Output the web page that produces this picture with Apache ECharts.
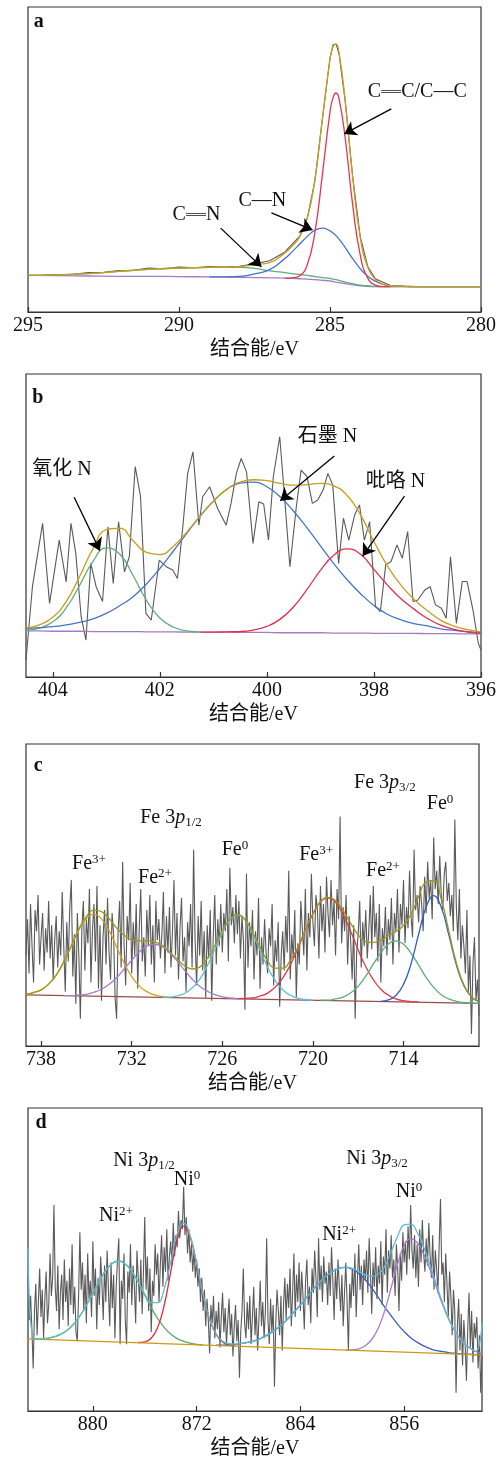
<!DOCTYPE html>
<html>
<head>
<meta charset="utf-8">
<title>XPS 分峰拟合</title>
<script src="https://cdn.jsdelivr.net/npm/echarts@6/dist/echarts.min.js"></script>
<style>
  html, body { margin: 0; padding: 0; background: #fff; }
  #chart { width: 499px; height: 1461px; }
</style>
</head>
<body>
<div id="chart"></div>
<script>
// ---------- (a) C 1s ----------
const aEnergy = [295, 294, 293, 292, 291, 290, 289, 288, 287.5, 287, 286.5, 286.25, 286, 285.75, 285.5, 285.25, 285, 284.9, 284.8, 284.7, 284.5, 284.25, 284, 283.75, 283.5, 283.25, 283, 282.5, 282, 281, 280];
const aBackground = [12.0, 11.9, 11.8, 11.7, 11.7, 11.6, 11.5, 11.4, 11.3, 11.2, 11.1, 11.0, 10.9, 10.8, 10.6, 10.4, 10.2, 10.0, 9.8, 9.6, 9.3, 8.9, 8.6, 8.4, 8.3, 8.3, 8.3, 8.3, 8.3, 8.3, 8.3];
const aDoubleCN = [12.0, 12.2, 12.6, 13.3, 14.0, 14.4, 14.6, 14.6, 14.3, 13.5, 12.9, 12.6, 12.3, 12.0, 11.6, 11.3, 11.0, 10.8, 10.6, 10.4, 9.8, 9.3, 8.8, 8.6, 8.4, 8.3, 8.3, 8.3, 8.3, 8.3, 8.3];
const aSingleCN = [null, null, null, null, null, null, 11.5, 11.7, 12.5, 13.9, 17.5, 19.8, 22.3, 24.8, 26.8, 27.5, 26.6, 25.9, 25.0, 23.9, 21.2, 17.5, 14.2, 11.7, 10.1, 9.1, 8.6, 8.4, 8.3, 8.3, 8.3];
const aCarbon = [null, null, null, null, null, null, null, null, null, null, 11.1, 11.2, 11.9, 15.6, 26.1, 45.3, 65.6, 70.3, 71.8, 69.9, 57.3, 35.2, 18.7, 11.1, 8.8, 8.3, 8.3, null, null, null, null];
const aEnvelope = [12.0, 12.2, 12.6, 13.3, 14.0, 14.4, 14.6, 14.9, 15.5, 16.2, 19.3, 21.6, 24.7, 30.8, 43.3, 63.3, 82.8, 87.0, 87.8, 85.0, 69.7, 44.2, 24.5, 14.6, 10.7, 9.1, 8.6, 8.4, 8.3, 8.3, 8.3];
const aRawEnergy = [295, 294.5, 294, 293.5, 293, 292.5, 292, 291.5, 291, 290.5, 290, 289.5, 289, 288.5, 288, 287.5, 287, 286.5, 286, 285.75, 285.5, 285.25, 285, 284.9, 284.8, 284.7, 284.5, 284.25, 284, 283.75, 283.5, 283, 282.5, 282, 281, 280];
const aRaw = [12.0, 12.1, 12.3, 12.4, 12.9, 13.0, 13.6, 13.7, 14.4, 14.2, 14.7, 14.5, 14.9, 14.7, 15.0, 15.8, 16.8, 19.6, 24.9, 30.9, 43.0, 63.5, 83.2, 87.6, 87.9, 84.6, 69.4, 44.5, 24.8, 14.9, 10.9, 8.7, 8.4, 8.3, 8.3, 8.3];
const aTicks = [280, 285, 290, 295];
const aNotes = [
  [289.42, 31.8, '{txt|C}{bond|═}{txt|N}'],
  [287.24, 36.4, '{txt|C—N}'],
  [282.11, 72.1, '{txt|C}{bond|═}{txt|C/C—C}'],
  [294.64, 95.1, '{tag|a}']
];
const aArrows = [[288.62, 27.5, 287.27, 14.8], [286.94, 32.5, 285.58, 26.9], [282.97, 66.6, 284.53, 58.4]];

// ---------- (b) N 1s ----------
const bEnergy = [404.5, 404.25, 404, 403.75, 403.5, 403.25, 403, 402.75, 402.5, 402.25, 402, 401.75, 401.5, 401.25, 401, 400.75, 400.5, 400.25, 400, 399.75, 399.5, 399.25, 399, 398.75, 398.5, 398.25, 398, 397.75, 397.5, 397.25, 397, 396.75, 396.5, 396.25, 396];
const bBackground = [15.2, 15.2, 15.1, 15.1, 15.1, 15.0, 15.0, 15.0, 15.0, 14.9, 14.9, 14.9, 14.8, 14.8, 14.8, 14.8, 14.7, 14.7, 14.7, 14.6, 14.6, 14.6, 14.6, 14.5, 14.5, 14.5, 14.4, 14.4, 14.4, 14.4, 14.3, 14.3, 14.3, 14.2, 14.2];
const bOxidized = [15.4, 16.1, 18.2, 22.8, 30.2, 38.1, 42.6, 40.6, 33.5, 25.3, 19.5, 16.5, 15.2, 14.9, null, null, null, null, null, null, null, null, null, null, null, null, null, null, null, null, null, null, null, null, null];
const bGraphitic = [16.0, 16.3, 16.6, 17.2, 18.0, 19.2, 21.0, 23.5, 26.5, 30.7, 35.8, 41.5, 47.3, 53.0, 58.0, 61.9, 64.0, 64.3, 62.8, 59.4, 54.7, 49.2, 43.3, 37.4, 32.1, 27.5, 23.6, 20.7, 18.9, 17.6, 16.9, 15.9, 15.4, 15.0, 14.7];
const bPyrrolic = [null, null, null, null, null, null, null, null, null, null, null, null, null, 14.8, 14.8, 14.9, 15.0, 15.5, 16.7, 19.1, 23.2, 28.9, 35.2, 40.2, 42.3, 40.5, 35.5, 30.4, 25.9, 22.4, 19.3, 17.1, 15.7, 14.8, 14.4];
const bEnvelope = [16.2, 17.2, 19.7, 24.9, 33.1, 42.3, 48.6, 49.1, 45.0, 41.1, 40.4, 43.1, 47.7, 53.1, 58.0, 62.0, 64.3, 65.1, 64.8, 63.9, 63.3, 63.5, 63.9, 63.1, 59.9, 53.5, 44.7, 36.7, 30.4, 25.6, 21.9, 18.7, 16.8, 15.6, 14.9];
const bRawEnergy = [404.50, 404.38, 404.19, 404.06, 403.88, 403.75, 403.66, 403.57, 403.47, 403.38, 403.29, 403.19, 403.07, 402.97, 402.87, 402.77, 402.66, 402.57, 402.46, 402.36, 402.26, 402.16, 402.01, 401.88, 401.76, 401.67, 401.57, 401.48, 401.38, 401.27, 401.20, 401.07, 400.92, 400.76, 400.67, 400.57, 400.48, 400.38, 400.26, 400.15, 400.06, 399.97, 399.88, 399.76, 399.67, 399.57, 399.45, 399.36, 399.25, 399.15, 399.05, 398.95, 398.86, 398.77, 398.66, 398.57, 398.47, 398.36, 398.27, 398.18, 398.08, 397.97, 397.88, 397.78, 397.68, 397.57, 397.47, 397.37, 397.27, 397.18, 397.05, 396.95, 396.85, 396.74, 396.65, 396.57, 396.46, 396.35, 396.26, 396.15, 396.05, 396.00];
const bRaw = [5.6, 29.8, 50.7, 24.3, 45.2, 31.4, 50.7, 40.8, 19.9, 12.2, 37.5, 29.8, 24.9, 49.6, 30.9, 51.2, 34.7, 39.7, 69.4, 59.5, 21.0, 18.8, 38.6, 36.4, 35.3, 32.5, 49.6, 67.2, 74.3, 50.1, 59.5, 62.8, 55.6, 50.1, 57.3, 67.2, 72.1, 67.7, 44.1, 57.8, 57.1, 45.2, 66.1, 79.3, 59.5, 36.4, 56.2, 68.3, 66.1, 57.3, 58.4, 61.7, 67.2, 63.4, 37.5, 52.4, 45.2, 53.5, 56.8, 45.2, 51.2, 23.2, 21.6, 37.0, 38.1, 43.6, 39.2, 48.0, 24.9, 25.4, 28.7, 29.8, 23.8, 22.7, 19.4, 39.7, 17.7, 31.5, 31.5, 22.1, 11.1, 8.9];
const bTicks = [396, 398, 400, 402, 404];
const bNotes = [
  [403.83, 68.3, '{txt|氧化 N}'],
  [398.87, 79.2, '{txt|石墨 N}'],
  [397.60, 64.4, '{txt|吡咯 N}'],
  [404.28, 92.1, '{tag|b}']
];
const bArrows = [[403.60, 59.3, 403.12, 41.7], [398.74, 72.9, 399.75, 58.2], [397.43, 59.7, 398.21, 39.9]];

// ---------- (c) Fe 3p ----------
const cFitStep = -0.5;
const cP12Fe3 = { from: 739, values: [17.2, 17.7, 18.6, 20.5, 23.5, 27.9, 33.1, 38.4, 42.2, 43.7, 42.1, 38.2, 32.8, 27.5, 23.0, 19.9, 18.0, 16.9, 16.4, 16.1] };
const cP12Fe2 = { from: 736.5, values: [16.7, 16.7, 16.9, 17.1, 17.8, 18.8, 20.4, 22.6, 25.5, 28.4, 31.1, 33.1, 33.7, 33.0, 30.9, 28.2, 25.1, 22.2, 19.8, 18.2, 17.0, 16.3, 15.9, 15.7] };
const cP12Fe0 = { from: 730, values: [16.2, 16.2, 16.6, 17.4, 19.2, 22.1, 26.5, 31.9, 37.5, 41.7, 43.3, 41.7, 37.3, 31.7, 26.1, 21.7, 18.6, 16.8, 15.8, 15.4, 15.2] };
const cP32Fe3 = { from: 725, values: [15.7, 15.8, 15.9, 16.5, 17.5, 19.5, 22.5, 26.8, 32.2, 38.3, 43.7, 47.7, 49.0, 47.6, 43.5, 38.0, 31.8, 26.3, 22.0, 18.8, 16.8, 15.6, 15.0, 14.7, 14.6] };
const cP32Fe2 = { from: 719.5, values: [15.2, 15.2, 15.6, 16.2, 17.6, 19.8, 23.1, 27.1, 30.9, 33.8, 34.8, 33.7, 30.7, 26.8, 22.7, 19.4, 17.0, 15.6, 14.8, 14.4, 14.2, 14.1] };
const cP32Fe0 = { from: 715.5, values: [14.8, 15.3, 16.7, 20.4, 27.2, 37.0, 46.0, 49.8, 45.9, 36.8, 26.9, 20.0, 16.2, 14.7] };
const cEnvelope = { from: 739, values: [17.2, 17.7, 18.6, 20.5, 23.5, 27.9, 33.2, 38.7, 42.8, 45.0, 44.5, 42.2, 39.1, 36.7, 35.2, 34.8, 34.9, 34.5, 33.4, 31.2, 28.8, 26.6, 25.5, 26.1, 28.9, 33.2, 38.1, 42.0, 43.5, 41.9, 37.7, 32.7, 28.2, 25.8, 25.8, 28.3, 32.8, 38.5, 43.8, 47.8, 49.2, 48.2, 44.8, 40.7, 36.8, 34.6, 34.3, 35.1, 36.5, 37.9, 39.9, 43.6, 49.4, 54.3, 54.8, 48.6, 38.1, 27.5, 20.2, 16.3, 14.7] };
const cBaselineEnergy = [739, 709];
const cBaseline = [16.9, 14.1];
const cRawFrom = 739, cRawStep = -0.1;
const cRaw = [
  30, 42, 24, 47, 33, 21, 45, 38, 50, 27,
  36, 44, 25, 39, 31, 48, 29, 40, 22, 35,
  43, 26, 38, 30, 51, 33, 18, 41, 28, 46,
  55, 23, 37, 14, 44, 30, 9, 39, 48, 25,
  42, 34, 52, 21, 38, 47, 28, 53, 19, 40,
  15, 36, 45, 27, 49, 31, 22, 44, 37, 16,
  9, 38, 48, 26, 61, 33, 20, 43, 35, 54,
  24, 41, 30, 47, 19, 39, 52, 28, 36, 23,
  45, 33, 50, 27, 40, 21, 48, 35, 42, 29,
  37, 51, 24, 43, 31, 46, 26, 38, 55, 30,
  44, 22, 39, 49, 28, 36, 18, 41, 33, 47,
  26, 65, 35, 20, 43, 30, 48, 25, 38, 16,
  40, 29, 45, 15, 36, 50, 27, 42, 33, 47,
  31, 44, 38, 52, 28, 59, 40, 46, 34, 50,
  37, 48, 29, 43, 35, 12, 57, 26, 41, 33,
  45, 22, 38, 30, 49, 19, 36, 27, 42, 31,
  24, 39, 33, 47, 20, 35, 28, 41, 13, 30,
  38, 25, 43, 31, 58, 22, 37, 29, 45, 16,
  34, 27, 48, 39, 30, 52, 25, 44, 36, 57,
  41, 33, 50, 45, 29, 53, 38, 47, 31, 56,
  44, 36, 55, 40, 48, 30, 52, 42, 76, 34,
  46, 38, 50, 27, 43, 35, 22, 40, 9, 31,
  37, 48, 26, 41, 33, 45, 29, 38, 50, 32,
  53, 36, 44, 28, 47, 21, 39, 33, 46, 30,
  42, 35, 49, 27, 44, 38, 52, 31, 47, 40,
  55, 34, 46, 39, 58, 43, 36, 65, 45, 50,
  41, 53, 47, 38, 56, 44, 61, 49, 55, 42,
  69, 52, 58, 47, 63, 50, 45, 57, 61, 48,
  54, 43, 50, 38, 75, 46, 35, 52, 29, 40,
  33, 24, 45, 18, 30, 4, 27, 36, 15, 22,
  10
];
const cTicks = [714, 720, 726, 732, 738];
const cNotes = [
  [729.40, 75.5, '{txt|Fe 3}{it|p}{sub|1/2}'],
  [715.23, 87.1, '{txt|Fe 3}{it|p}{sub|3/2}'],
  [711.58, 80.1, '{txt|Fe}{sup|0}'],
  [734.83, 60.3, '{txt|Fe}{sup|3+}'],
  [730.46, 55.6, '{txt|Fe}{sup|2+}'],
  [725.16, 64.9, '{txt|Fe}{sup|0}'],
  [719.79, 63.2, '{txt|Fe}{sup|3+}'],
  [715.36, 57.9, '{txt|Fe}{sup|2+}'],
  [738.2, 92.7, '{tag|c}']
];

// ---------- (d) Ni 3p ----------
const dFitStep = -0.5;
const dP12Ni2 = { from: 884.5, values: [23.8, 23.8, 24.0, 24.5, 25.3, 26.6, 28.6, 31.4, 34.9, 38.8, 42.8, 46.4, 48.7, 49.5, 48.5, 46.1, 42.4, 38.2, 34.1, 30.5, 27.6, 25.4, 23.9, 23.0, 22.4, 22.0, 21.8] };
const dP12Ni0 = { from: 876.5, values: [22.6, 22.8, 24.0, 27.6, 34.9, 45.8, 56.4, 61.0, 57.4, 48.5, 38.4, 30.3, 25.3, 22.8, 21.8, 21.5] };
const dP32Ni2 = { from: 870.5, values: [21.7, 21.7, 21.8, 22.0, 22.3, 22.7, 23.2, 24.1, 25.2, 26.6, 28.2, 30.3, 32.6, 35.0, 37.6, 40.2, 42.6, 44.6, 46.1, 47.1, 47.4, 46.8, 45.4, 43.3, 40.6, 37.5, 34.3, 31.4, 28.6, 26.2, 24.2, 22.7, 21.5, 20.6, 19.9, 19.6, 19.2, 19.0, 18.8, 18.7, 18.6, 18.5] };
const dP32Ni0 = { from: 860.5, values: [20.2, 20.2, 20.5, 21.6, 23.6, 27.3, 33.1, 40.8, 48.6, 54.6, 56.8, 55.6, 51.8, 46.6, 40.6, 34.7, 29.6, 25.7, 22.8, 21.0, 19.7, 19.0] };
const dEnvelope = { from: 885, values: [54.0, 23.8, 23.8, 24.0, 24.5, 25.3, 26.6, 28.6, 31.4, 34.9, 38.8, 42.8, 46.4, 48.7, 49.5, 48.5, 46.1, 42.5, 38.6, 35.8, 35.8, 40.3, 49.1, 58.3, 62.0, 57.9, 48.7, 38.5, 30.3, 25.4, 23.0, 22.2, 22.1, 22.3, 22.7, 23.2, 24.1, 25.2, 26.6, 28.2, 30.3, 32.6, 35.0, 37.6, 40.2, 42.6, 44.6, 46.1, 47.1, 47.5, 47.0, 46.0, 45.0, 44.4, 45.1, 47.8, 52.6, 57.7, 61.4, 61.7, 59.0, 54.1, 48.1, 41.5, 35.3, 29.9, 25.9, 22.9, 21.0, 19.7, 28.9] };
const dBaselineEnergy = [885, 850];
const dBaseline = [23.8, 18.5];
const dRawFrom = 885, dRawStep = -0.1;
const dRaw = [
  45, 30, 38, 27, 14, 33, 42, 25, 36, 47,
  31, 40, 24, 37, 46, 29, 35, 52, 38, 44,
  68, 41, 33, 48, 27, 39, 45, 30, 50, 36,
  43, 28, 47, 35, 55, 32, 41, 26, 23, 38,
  59, 40, 49, 33, 45, 29, 52, 37, 43, 31,
  56, 38, 47, 27, 44, 35, 51, 42, 30, 48,
  36, 53, 40, 28, 49, 34, 45, 24, 41, 50,
  57, 22, 43, 37, 52, 30, 22, 46, 39, 55,
  35, 48, 41, 29, 53, 44, 36, 50, 32, 46,
  64, 40, 51, 33, 47, 26, 43, 38, 55, 45,
  52, 36, 48, 58, 41, 54, 46, 60, 43, 51,
  56, 48, 62, 51, 58, 54, 66, 57, 63, 60,
  74, 58, 64, 52, 60, 49, 55, 46, 53, 44,
  50, 41, 47, 36, 44, 33, 40, 28, 37, 30,
  19, 35, 29, 38, 24, 33, 27, 36, 21, 31,
  39, 26, 34, 22, 30, 37, 25, 32, 18, 28,
  35, 23, 30, 11, 26, 33, 47, 29, 24, 36,
  27, 38, 22, 31, 41, 25, 34, 20, 30, 43,
  28, 36, 24, 33, 57, 30, 22, 37, 26, 35,
  8, 29, 40, 33, 25, 38, 20, 35, 44, 30,
  42, 34, 47, 28, 39, 52, 31, 45, 36, 49,
  33, 46, 38, 27, 43, 50, 35, 41, 29, 47,
  39, 53, 44, 31, 57, 40, 48, 36, 51, 42,
  46, 35, 49, 38, 54, 43, 30, 47, 37, 50,
  41, 33, 45, 28, 39, 49, 36, 20, 42, 34,
  47, 38, 52, 31, 44, 55, 40, 48, 35, 50,
  43, 53, 39, 57, 46, 32, 49, 41, 54, 37,
  48, 42, 56, 35, 51, 45, 60, 39, 53, 47,
  58, 44, 50, 38, 55, 47, 33, 52, 43, 59,
  49, 56, 45, 61, 50, 68, 53, 47, 58, 44,
  55, 41, 60, 49, 63, 52, 46, 57, 48, 62,
  51, 44, 58, 40, 53, 47, 39, 55, 70, 45,
  49, 36, 52, 42, 31, 46, 38, 25, 40, 33,
  6, 28, 37, 20, 32, 15, 30, 22, 10, 27,
  39, 21, 33, 16, 29, 24, 31, 14, 25, 6,
  18
];
const dTicks = [856, 864, 872, 880];
const dNotes = [
  [876.06, 82.5, '{txt|Ni 3}{it|p}{sub|1/2}'],
  [858.09, 83.2, '{txt|Ni 3}{it|p}{sub|3/2}'],
  [872.74, 76.2, '{txt|Ni}{sup|0}'],
  [878.22, 64.4, '{txt|Ni}{sup|2+}'],
  [861.02, 58.1, '{txt|Ni}{sup|2+}'],
  [855.62, 72.3, '{txt|Ni}{sup|0}'],
  [884.0, 95.0, '{tag|d}']
];

// ---------- drawing ----------
const SERIF = "'Liberation Serif', 'Noto Sans CJK SC', serif";
const INK = '#111';
const FRAME = '#333';
const RAW = '#5a5a5a';

const RICH = {
  txt: { fontFamily: SERIF, fontSize: 20, color: INK, lineHeight: 22 },
  it: { fontFamily: SERIF, fontSize: 20, fontStyle: 'italic', color: INK, lineHeight: 22 },
  sup: { fontFamily: SERIF, fontSize: 13, color: INK, lineHeight: 15, verticalAlign: 'top' },
  sub: { fontFamily: SERIF, fontSize: 13, color: INK, lineHeight: 15, verticalAlign: 'bottom' },
  bond: { fontFamily: "'Noto Sans CJK SC'", fontSize: 20, color: INK, lineHeight: 22 },
  tag: { fontFamily: SERIF, fontSize: 20, fontWeight: 'bold', color: INK, lineHeight: 22 }
};

function zip(xs, ys) {
  return xs.map((x, i) => [x, ys[i]]).filter(p => p[1] != null);
}
function scan(from, step, ys) {
  return ys.map((y, i) => [Math.round((from + step * i) * 100) / 100, y]);
}
function notes(list) {
  return {
    silent: true, symbol: 'circle', symbolSize: 0, animation: false,
    itemStyle: { color: 'transparent' },
    label: { show: true, position: 'inside', color: INK, fontFamily: SERIF, fontSize: 20, rich: RICH },
    data: list.map(([x, y, text]) => ({ coord: [x, y], label: { formatter: text } }))
  };
}
function arrows(list) {
  return {
    silent: true, symbol: ['none', 'arrow'], symbolSize: 12, animation: false,
    lineStyle: { color: '#000', width: 1.3, type: 'solid' },
    label: { show: false }, emphasis: { disabled: true },
    data: list.map(([x1, y1, x2, y2]) => [{ coord: [x1, y1] }, { coord: [x2, y2] }])
  };
}
function line(panel, data, color, extra) {
  return Object.assign({
    type: 'line', xAxisIndex: panel, yAxisIndex: panel, data,
    symbol: 'none', smooth: true, silent: true,
    lineStyle: { color, width: 1.3 }
  }, extra || {});
}
function raw(panel, data) {
  return line(panel, data, RAW, { smooth: false, lineStyle: { color: RAW, width: 1.1 } });
}

const panels = [
  { grid: { left: 28, top: 7, width: 454, height: 305 }, min: 280, max: 295, ticks: aTicks },
  { grid: { left: 26, top: 374, width: 455, height: 303 }, min: 396, max: 404.5, ticks: bTicks },
  { grid: { left: 26, top: 744, width: 453, height: 302 }, min: 709, max: 739, ticks: cTicks },
  { grid: { left: 28, top: 1108, width: 454, height: 303 }, min: 850, max: 885, ticks: dTicks }
];

const option = {
  animation: false,
  backgroundColor: '#fff',
  grid: panels.map(p => Object.assign({ show: true, borderColor: FRAME, borderWidth: 1.2 }, p.grid)),
  xAxis: panels.map((p, i) => ({
    gridIndex: i, type: 'value', inverse: true, min: p.min, max: p.max,
    axisLine: { show: true, onZero: false, lineStyle: { color: FRAME, width: 1.2 } },
    axisTick: { show: true, inside: true, length: 5, customValues: p.ticks, lineStyle: { color: FRAME, width: 1.2 } },
    axisLabel: { customValues: p.ticks, color: INK, fontFamily: SERIF, fontSize: 20, margin: 4 },
    splitLine: { show: false },
    name: '结合能/eV', nameLocation: 'middle', nameGap: 28,
    nameTextStyle: { color: INK, fontFamily: SERIF, fontSize: 20 }
  })),
  yAxis: panels.map((p, i) => ({ gridIndex: i, type: 'value', min: 0, max: 100, show: false })),
  series: [
    // (a)
    raw(0, zip(aRawEnergy, aRaw)),
    line(0, zip(aEnergy, aBackground), '#a47cc6'),
    line(0, zip(aEnergy, aDoubleCN), '#5fae7a'),
    line(0, zip(aEnergy, aSingleCN), '#4675c8'),
    line(0, zip(aEnergy, aCarbon), '#e8354d'),
    line(0, zip(aEnergy, aEnvelope), '#c99f1e', { markPoint: notes(aNotes), markLine: arrows(aArrows) }),
    // (b)
    raw(1, zip(bRawEnergy, bRaw)),
    line(1, zip(bEnergy, bBackground), '#a47cc6'),
    line(1, zip(bEnergy, bOxidized), '#5fae7a'),
    line(1, zip(bEnergy, bGraphitic), '#4675c8'),
    line(1, zip(bEnergy, bPyrrolic), '#e2304a'),
    line(1, zip(bEnergy, bEnvelope), '#c99f1e', { markPoint: notes(bNotes), markLine: arrows(bArrows) }),
    // (c)
    raw(2, scan(cRawFrom, cRawStep, cRaw)),
    line(2, zip(cBaselineEnergy, cBaseline), '#9c4b4b', { smooth: false }),
    line(2, scan(cP12Fe3.from, cFitStep, cP12Fe3.values), '#d6a21c'),
    line(2, scan(cP12Fe2.from, cFitStep, cP12Fe2.values), '#a57cc8'),
    line(2, scan(cP12Fe0.from, cFitStep, cP12Fe0.values), '#5cc3d6'),
    line(2, scan(cP32Fe3.from, cFitStep, cP32Fe3.values), '#e03a4a'),
    line(2, scan(cP32Fe2.from, cFitStep, cP32Fe2.values), '#5cb07c'),
    line(2, scan(cP32Fe0.from, cFitStep, cP32Fe0.values), '#2e5fd0'),
    line(2, scan(cEnvelope.from, cFitStep, cEnvelope.values), '#9b9a1e', { markPoint: notes(cNotes) }),
    // (d)
    raw(3, scan(dRawFrom, dRawStep, dRaw)),
    line(3, scan(dP12Ni2.from, dFitStep, dP12Ni2.values), '#5aaa72'),
    line(3, scan(dP12Ni0.from, dFitStep, dP12Ni0.values), '#e8283c'),
    line(3, scan(dP32Ni2.from, dFitStep, dP32Ni2.values), '#3a5fc0'),
    line(3, scan(dP32Ni0.from, dFitStep, dP32Ni0.values), '#a57cc8'),
    line(3, zip(dBaselineEnergy, dBaseline), '#cc9a10', { smooth: false }),
    line(3, scan(dEnvelope.from, dFitStep, dEnvelope.values), '#5bbdd2', { markPoint: notes(dNotes) })
  ]
};

const chart = echarts.init(document.getElementById('chart'), null, { renderer: 'canvas' });
chart.setOption(option);
</script>
</body>
</html>
